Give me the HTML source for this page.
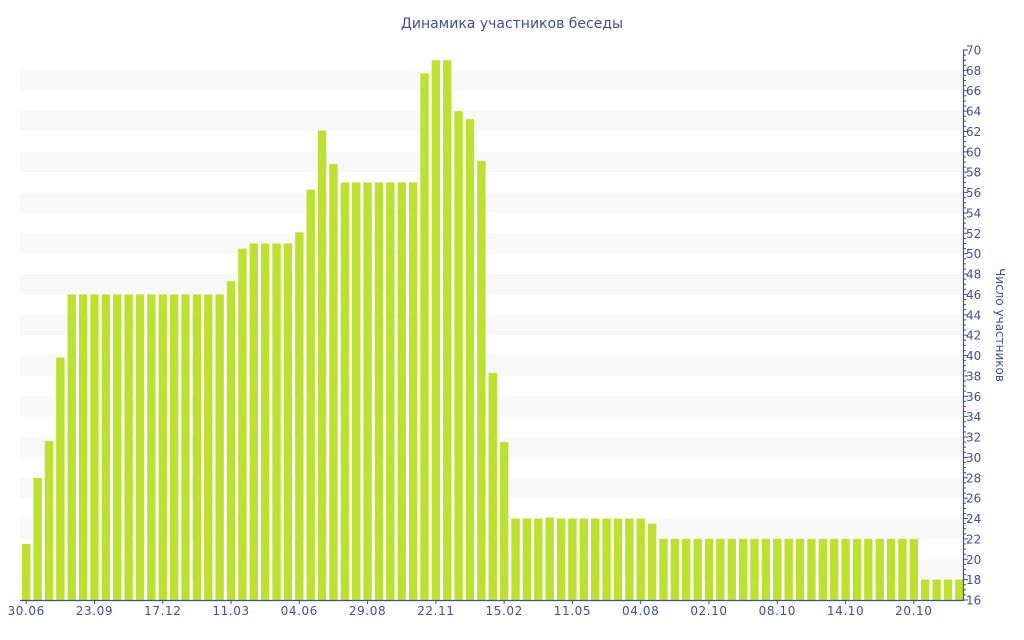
<!DOCTYPE html>
<html><head><meta charset="utf-8"><style>
html,body{margin:0;padding:0;background:#fff;width:1024px;height:640px;overflow:hidden}
svg text{font-family:"DejaVu Sans","Liberation Sans",sans-serif;fill:#3d4f9f}
</style></head><body>
<svg id="c" width="1024" height="640" xmlns="http://www.w3.org/2000/svg"></svg>
<script>
var vals=[21.5,28,31.6,39.8];
for(var i=0;i<14;i++)vals.push(46);
vals.push(47.3,50.5,51,51,51,51,52.1,56.3,62.1,58.8);
for(i=0;i<7;i++)vals.push(57);
vals.push(67.7,69,69,64,63.2,59.1,38.3,31.5);
for(i=0;i<12;i++)vals.push(i==3?24.1:24);
vals.push(23.5);
for(i=0;i<23;i++)vals.push(22);
for(i=0;i<4;i++)vals.push(18);
function Y(v){return 600-(v-16)*550/54;}
var s='';
for(var v=18;v<70;v+=4){s+='<rect x="20" y="'+Y(v+2)+'" width="943" height="'+(Y(v)-Y(v+2))+'" fill="#f8f8f8"/>';}
var p=11.38;
vals.forEach(function(v,k){var x=22+k*p;s+='<rect x="'+x.toFixed(2)+'" y="'+Y(v).toFixed(2)+'" width="8.4" height="'+(600-Y(v)).toFixed(2)+'" fill="#bde130"/>';});
s+='<line x1="20" y1="600.5" x2="964" y2="600.5" stroke="#3d4f9f" stroke-width="1.2"/>';
s+='<line x1="963.5" y1="50" x2="963.5" y2="601" stroke="#3d4f9f" stroke-width="1.2"/>';
for(v=16;v<=70;v+=0.5){var y=Y(v),maj=(v%2==0);s+='<line x1="963" y1="'+y+'" x2="'+(maj?968:966)+'" y2="'+y+'" stroke="#3d4f9f" stroke-width="1"/>';
 if(maj)s+='<text x="966" y="'+(y+4.5)+'" font-size="12">'+v+'</text>';}
var labs=["30.06","23.09","17.12","11.03","04.06","29.08","22.11","15.02","11.05","04.08","02.10","08.10","14.10","20.10"];
labs.forEach(function(l,k){var x=26.2+k*6*p;s+='<line x1="'+x+'" y1="600" x2="'+x+'" y2="604" stroke="#3d4f9f"/>';s+='<text x="'+x+'" y="615" font-size="12" letter-spacing="0.6" text-anchor="middle">'+l+'</text>';});
s+='<text x="512" y="28" font-size="14" text-anchor="middle">Динамика участников беседы</text>';
s+='<text transform="translate(996,325) rotate(90)" font-size="12" text-anchor="middle">Число участников</text>';
document.getElementById('c').innerHTML=s;
</script>
</body></html>
